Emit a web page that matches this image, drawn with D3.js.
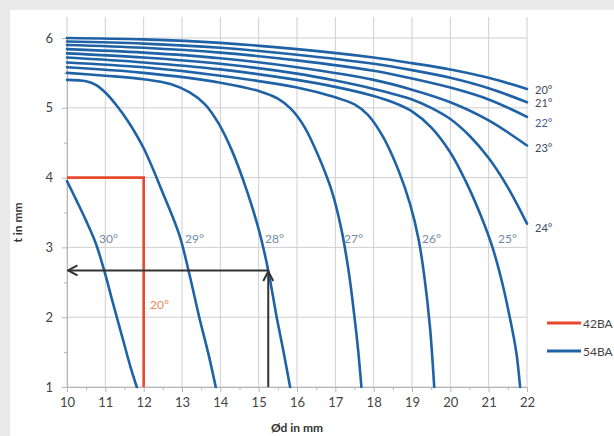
<!DOCTYPE html>
<html><head><meta charset="utf-8">
<script src="https://cdn.jsdelivr.net/npm/d3@7"></script>
<style>
html,body{margin:0;padding:0;background:#e9e9e9;}
svg{display:block;}
</style></head>
<body>
<svg id="c" width="614" height="436"></svg>
<script>
// ---- data ----
const xTicks = [10,11,12,13,14,15,16,17,18,19,20,21,22];
const yTicks = [1,2,3,4,5,6];
const angleLabels = ["20°","21°","22°","23°","24°","25°","26°","27°","28°","29°","30°"];
const c20 = [[10,6.00],[12,5.98],[14,5.93],[16,5.84],[18,5.72],[19,5.64],[20,5.55],[21,5.43],[22,5.27]];
const c21 = [[10,5.95],[12,5.92],[14,5.86],[16,5.76],[18,5.63],[19,5.54],[20,5.43],[21,5.28],[22,5.08]];
const c22 = [[10,5.90],[12,5.86],[14,5.79],[16,5.68],[18,5.53],[19,5.42],[20,5.29],[21,5.12],[22,4.87]];
const c23 = [[10,5.84],[12,5.79],[14,5.71],[16,5.58],[18,5.40],[19,5.26],[20,5.08],[21,4.82],[22,4.46]];
const c24 = [[10,5.78],[12,5.72],[14,5.63],[16,5.49],[17,5.39],[18,5.27],[19,5.12],[19.5,5.00],[20,4.84],[20.5,4.60],[21,4.28],[21.5,3.86],[22,3.34]];
const c25 = [[10,5.72],[12,5.65],[14,5.55],[16,5.40],[17,5.30],[18,5.17],[18.5,5.08],[19,4.95],[19.5,4.72],[20,4.36],[20.4,3.95],[20.8,3.45],[21.1,3.0],[21.35,2.5],[21.55,2.0],[21.72,1.5],[21.82,1.0]];
const c26 = [[10,5.65],[12,5.58],[14,5.46],[16,5.29],[17,5.15],[17.5,5.05],[17.85,4.90],[18.25,4.58],[18.65,4.10],[18.95,3.62],[19.17,3.12],[19.33,2.55],[19.47,1.85],[19.58,1.0]];
const c27 = [[10,5.58],[12,5.50],[14,5.36],[15,5.24],[15.5,5.13],[15.85,4.98],[16.2,4.72],[16.55,4.32],[16.9,3.82],[17.15,3.28],[17.35,2.65],[17.5,2.0],[17.6,1.5],[17.68,1.0]];
const c28 = [[10,5.50],[11,5.46],[12,5.41],[12.7,5.34],[13.2,5.22],[13.6,5.05],[13.95,4.78],[14.3,4.39],[14.7,3.80],[15.02,3.22],[15.25,2.67],[15.47,2.0],[15.65,1.5],[15.82,1.0]];
const c29 = [[10,5.40],[10.5,5.38],[10.75,5.33],[11.0,5.22],[11.3,5.03],[11.6,4.80],[12.0,4.42],[12.5,3.78],[12.93,3.18],[13.17,2.67],[13.45,2.0],[13.7,1.45],[13.88,1.0]];
const c30 = [[10,3.95],[10.25,3.67],[10.5,3.38],[10.75,3.06],[10.97,2.67],[11.2,2.2],[11.45,1.7],[11.65,1.3],[11.82,1.0]];
const curves54 = [c20,c21,c22,c23,c24,c25,c26,c27,c28,c29,c30];
const red42 = [[10,4],[12,4],[12,1]];
const arrowD = 15.25, arrowT = 2.67;
const legendNames = ["42BA","54BA"];

// ---- drawing ----
const svg = d3.select("#c");
svg.append("rect").attr("x",10).attr("y",10).attr("width",604).attr("height",426).attr("fill","#ffffff");

const x = d3.scaleLinear().domain([10,22]).range([67,527]);
const y = d3.scaleLinear().domain([1,6]).range([387,38]);
const topY = y(6.3);

const grid = svg.append("g");
grid.selectAll("line.v").data(xTicks).join("line")
  .attr("x1",d=>x(d)).attr("x2",d=>x(d)).attr("y1",topY).attr("y2",y(1))
  .attr("stroke","#cfcfcf").attr("stroke-width",1);
grid.selectAll("line.h").data(yTicks).join("line")
  .attr("x1",x(10)).attr("x2",x(22)).attr("y1",d=>y(d)).attr("y2",d=>y(d))
  .attr("stroke","#cfcfcf").attr("stroke-width",1);

// axes
const xAxis = d3.axisBottom(x).tickValues(xTicks).tickSize(5).tickPadding(6).tickFormat(d3.format("d"));
const yAxis = d3.axisLeft(y).tickValues(yTicks).tickSize(5).tickPadding(9).tickFormat(d3.format("d"));
const gx = svg.append("g").attr("transform",`translate(0,${y(1)})`).call(xAxis);
const gy = svg.append("g").attr("transform",`translate(${x(10)},0)`).call(yAxis);
[gx,gy].forEach(g=>{
  g.select(".domain").attr("stroke","#b5b5b5");
  g.selectAll(".tick line").attr("stroke","#b5b5b5");
  g.selectAll(".tick text").attr("fill","#444").style("font-family","Lato, 'Open Sans', sans-serif").style("font-size","13px");
});
// minor ticks
const xMinor = d3.axisBottom(x).tickValues(d3.range(10.5,22,1)).tickSize(3).tickFormat("");
const yMinor = d3.axisLeft(y).tickValues(d3.range(1.5,6,1)).tickSize(3).tickFormat("");
svg.append("g").attr("transform",`translate(0,${y(1)})`).call(xMinor).call(g=>{g.select(".domain").remove();g.selectAll("line").attr("stroke","#b5b5b5");});
svg.append("g").attr("transform",`translate(${x(10)},0)`).call(yMinor).call(g=>{g.select(".domain").remove();g.selectAll("line").attr("stroke","#b5b5b5");});

// axis titles
svg.append("text").attr("transform",`translate(22,${(y(1)+y(6))/2+10}) rotate(-90)`)
  .attr("text-anchor","middle").attr("fill","#333").style("font-family","Lato, sans-serif")
  .style("font-size","12px").style("font-weight","bold").text("t in mm");
svg.append("text").attr("x",297).attr("y",432).attr("text-anchor","middle").attr("fill","#333")
  .style("font-family","Lato, sans-serif").style("font-size","12px").style("font-weight","bold").text("Ød in mm");

const line = d3.line().x(d=>x(d[0])).y(d=>y(d[1])).curve(d3.curveCatmullRom.alpha(0.5));
const blue = "#1f62a6";
svg.append("g").selectAll("path").data(curves54).join("path")
  .attr("d",line).attr("fill","none").attr("stroke",blue).attr("stroke-width",2.6).attr("stroke-linecap","round");

svg.append("path").attr("d",d3.line().x(d=>x(d[0])).y(d=>y(d[1]))(red42))
  .attr("fill","none").attr("stroke","#e8482c").attr("stroke-width",2.6);

// arrows
const defs = svg.append("defs");
defs.append("marker").attr("id","arr").attr("viewBox","0 0 12 12").attr("refX",10.5).attr("refY",6)
  .attr("markerWidth",12).attr("markerHeight",12).attr("markerUnits","userSpaceOnUse").attr("orient","auto")
  .append("path").attr("d","M1,1 L10.5,6 L1,11").attr("fill","none").attr("stroke","#333").attr("stroke-width",2);
svg.append("line").attr("x1",x(arrowD)).attr("x2",x(10)+1).attr("y1",y(arrowT)).attr("y2",y(arrowT))
  .attr("stroke","#333").attr("stroke-width",2).attr("marker-end","url(#arr)");
svg.append("line").attr("x1",x(arrowD)).attr("x2",x(arrowD)).attr("y1",y(1)).attr("y2",y(arrowT)+1)
  .attr("stroke","#333").attr("stroke-width",2).attr("marker-end","url(#arr)");

// curve labels
const lblFont = "Lato, 'Open Sans', sans-serif";
const rightLbl = [[0,535,94],[1,535,107],[2,535,127],[3,535,152],[4,535,232]];
svg.append("g").selectAll("text").data(rightLbl).join("text")
  .attr("x",d=>d[1]).attr("y",d=>d[2]).attr("fill",(d,i)=>i===2?"#4a5a98":"#3d4a60")
  .style("font-family",lblFont).style("font-size","11px").text(d=>angleLabels[d[0]]);
const innerLbl = [[10,99],[9,185],[8,265],[7,344],[6,422],[5,498]];
svg.append("g").selectAll("text").data(innerLbl).join("text")
  .attr("x",d=>d[1]).attr("y",y(3)-4).attr("fill","#6f8aa8")
  .style("font-family",lblFont).style("font-size","12px").text(d=>angleLabels[d[0]]);
svg.append("text").attr("x",150).attr("y",309).attr("fill","#e8875a")
  .style("font-family",lblFont).style("font-size","12px").text(angleLabels[0]);

// legend
const lg = svg.append("g");
[["#e8482c",323],[blue,351]].forEach((d,i)=>{
  lg.append("line").attr("x1",547).attr("x2",581).attr("y1",d[1]).attr("y2",d[1]).attr("stroke",d[0]).attr("stroke-width",3);
  lg.append("text").attr("x",583).attr("y",d[1]+4.5).attr("fill","#444").style("font-family",lblFont).style("font-size","12px").text(legendNames[i]);
});
</script>
</body></html>
